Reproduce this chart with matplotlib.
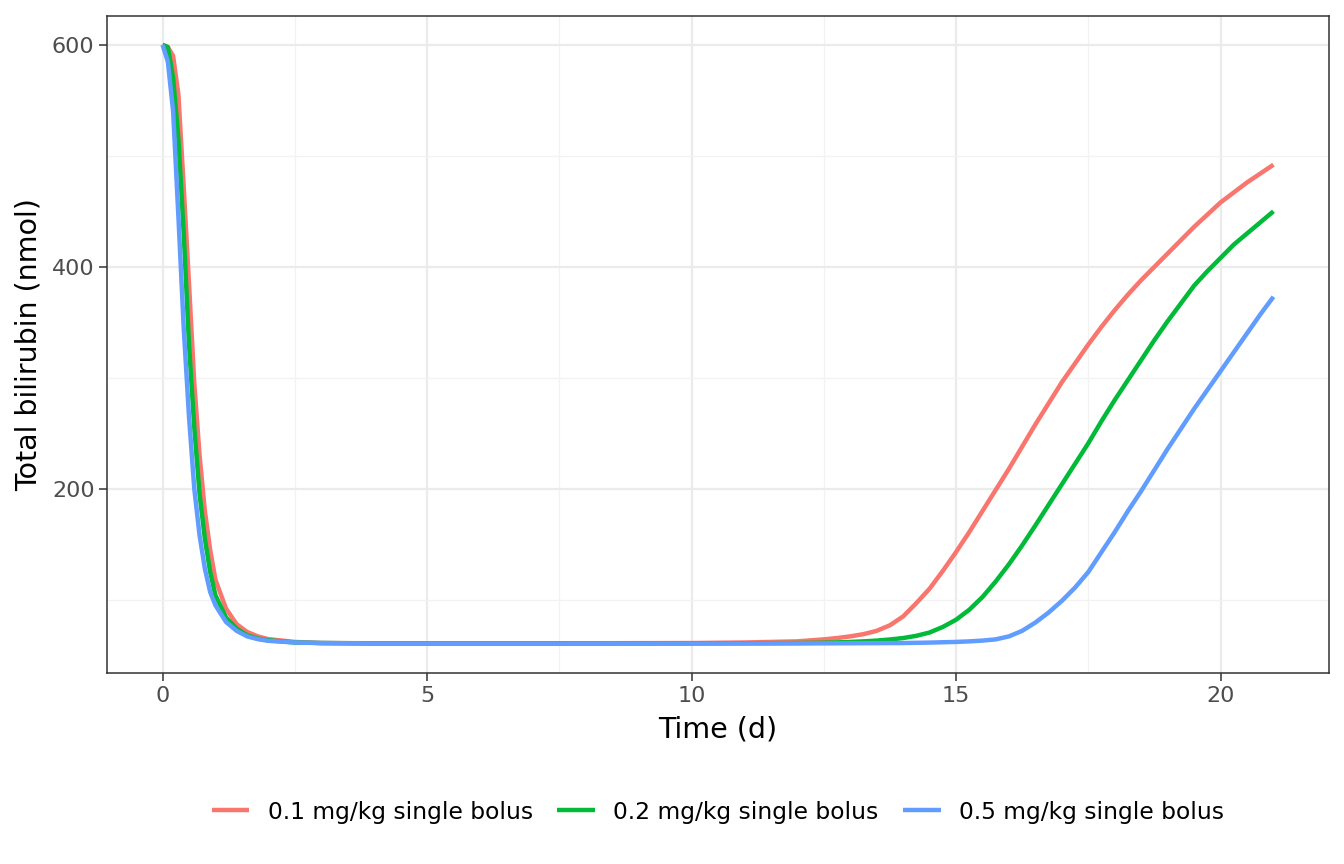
import matplotlib.pyplot as plt
import matplotlib.ticker as ticker

time_d = [0, 0.1, 0.2, 0.3, 0.4, 0.5, 0.6, 0.7, 0.8, 0.9, 1.0, 1.2, 1.4, 1.6, 1.8, 2.0, 2.5, 3,
          4, 5, 6, 7, 8, 9, 10, 11, 12, 12.5, 12.75, 13, 13.25, 13.5, 13.75, 14, 14.25, 14.5, 14.75,
          15, 15.25, 15.5, 15.75, 16, 16.25, 16.5, 16.75, 17, 17.25, 17.5, 17.75, 18, 18.25, 18.5,
          18.75, 19, 19.25, 19.5, 19.75, 20, 20.25, 20.5, 20.75, 21]

bili_01 = [600, 598, 590, 555, 472, 385, 295, 230, 180, 145, 118, 92, 78, 71, 67, 64.5, 62, 61,
           60.8, 60.8, 60.8, 60.8, 60.8, 60.9, 61, 61.5,
           62.5, 64.3, 65.5, 67, 69, 72, 77, 85, 97, 110, 126, 143, 161, 180, 199, 218, 238, 258,
           277, 296, 313, 330, 346, 361, 375, 388, 400, 412, 424, 436, 447, 458, 467, 476, 484, 492]
bili_02 = [600, 598, 570, 515, 430, 330, 255, 195, 155, 125, 104, 84, 74, 68, 65, 63.5, 61.5, 61,
           60.7, 60.7, 60.7, 60.7, 60.7, 60.7, 60.7, 60.8,
           61, 61.3, 61.6, 62, 62.5, 63.2, 64.2, 65.5, 67.5, 70.5, 75.5, 82, 91, 102.5, 116.5, 132, 149, 167,
           185.5, 204, 222.5, 241, 261, 280, 298, 316, 334, 351, 367, 383, 396, 408, 420, 430, 440, 450]
bili_05 = [600, 585, 540, 445, 345, 265, 200, 158, 128, 107, 95, 80, 72, 67, 64.5, 63, 61.5, 61,
           60.6, 60.6, 60.6, 60.6, 60.6, 60.6, 60.6, 60.6,
           60.7, 60.7, 60.75, 60.8, 60.85, 60.9, 60.95, 61, 61.2, 61.4, 61.7, 62, 62.5, 63.2, 64.3, 67,
           72, 79.5, 88.5, 99, 111, 125, 143, 161, 180, 198, 217, 236, 254, 272, 289, 306, 323, 340,
           357, 373]

labels = ['0.1 mg/kg single bolus', '0.2 mg/kg single bolus', '0.5 mg/kg single bolus']
colors = ['#F8766D', '#00BA38', '#619CFF']

fig = plt.figure(figsize=(13.44, 8.64), dpi=100)
ax = fig.add_axes([107/1344, 1 - 673/864, (1329-107)/1344, (673-16)/864])

for vals, lab, col in zip([bili_01, bili_02, bili_05], labels, colors):
  ax.plot(time_d, vals, c=col, lw=3.2, label=lab, solid_capstyle='butt', solid_joinstyle='round')

ax.set_xlim(-1.05, 22.05)
ax.set_ylim(34, 626)
ax.xaxis.set_major_locator(ticker.MultipleLocator(5))
ax.xaxis.set_minor_locator(ticker.MultipleLocator(2.5))
ax.yaxis.set_major_locator(ticker.MultipleLocator(200))
ax.yaxis.set_minor_locator(ticker.FixedLocator([100, 300, 500]))
ax.grid(which='major', color='#EBEBEB', lw=1.6)
ax.grid(which='minor', color='#F2F2F2', lw=0.9)
ax.set_axisbelow(True)
ax.tick_params(which='major', length=6, width=1.1, color='#333333', labelcolor='#4D4D4D', labelsize=16, pad=3)
ax.tick_params(which='minor', length=0)
for s in ax.spines.values():
  s.set_color('#333333')
  s.set_linewidth(1.1)

ax.set_xlabel('Time (d)', fontsize=20.5, labelpad=7)
ax.set_ylabel('Total bilirubin (nmol)', fontsize=20.5, labelpad=7)

fig.legend(loc='center', bbox_to_anchor=(718/1344, 1 - 812/864), ncol=3, frameon=False,
           fontsize=16.8, handlelength=1.6, handletextpad=0.8, columnspacing=1.05)

plt.savefig('out.png', dpi=100)
plt.close()
